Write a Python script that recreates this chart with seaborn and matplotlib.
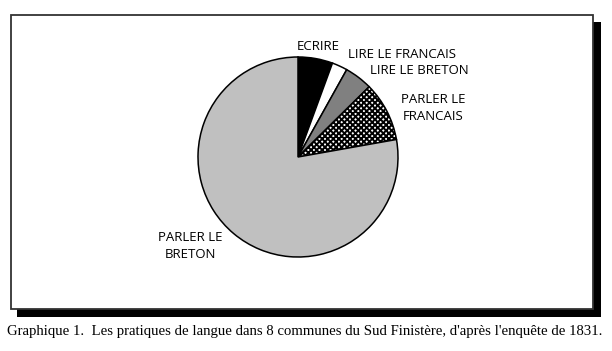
"""
Pie chart: language practices in 8 communes of Sud Finistère (1831 survey).
"""

import matplotlib.pyplot as plt
import seaborn as sns
from matplotlib.patches import Rectangle

# ==========================================
# DATA (shares, in %)
# ==========================================
categories = ["ECRIRE", "LIRE LE FRANCAIS", "LIRE LE BRETON",
              "PARLER LE\nFRANCAIS", "PARLER LE\nBRETON"]
shares = [5.6, 2.5, 4.5, 9.6, 77.8]

# ==========================================
# STYLE
# ==========================================
sns.set_theme(style="white")
plt.rcParams["font.family"] = ["Open Sans", "DejaVu Sans"]
plt.rcParams["hatch.linewidth"] = 1.4

face_colors = ["#000000", "#ffffff", "#808080", "#ffffff", "#c0c0c0"]
hatches = [None, None, None, "xxxxxx", None]

# label anchors in pie data units (radius = 1)
label_pos = [(0.20, 1.10, "center"), (0.50, 1.02, "left"), (0.72, 0.87, "left"),
             (1.35, 0.49, "center"), (-1.08, -0.89, "center")]

W, H = 612, 351
fig = plt.figure(figsize=(W / 100, H / 100), dpi=100)

# frame with drop shadow (pixel coords converted to figure fraction)
def px_rect(x0, y0, x1, y1, **kw):
    return Rectangle((x0 / W, 1 - y1 / H), (x1 - x0) / W, (y1 - y0) / H,
                     transform=fig.transFigure, **kw)

fig.patches.append(px_rect(17, 22, 601, 317, facecolor="black", edgecolor="none", zorder=0))
fig.patches.append(px_rect(11, 15, 593, 309, facecolor="white", edgecolor="#333333",
                           linewidth=1.3, zorder=1))

# pie axes: centre (298,157) px, radius 100 px
cx, cy, r = 298, 157, 100
ax = fig.add_axes([(cx - r) / W, 1 - (cy + r) / H, 2 * r / W, 2 * r / H])
ax.set_zorder(2)
ax.patch.set_alpha(0)

wedges, _ = ax.pie(shares, colors=face_colors, startangle=90, counterclock=False,
                   radius=1, wedgeprops=dict(edgecolor="black", linewidth=1.1))
for w, h in zip(wedges, hatches):
    if h:
        w.set_hatch(h)
        w.set_edgecolor("black")

for name, (x, y, ha) in zip(categories, label_pos):
    ax.text(x, y, name, ha=ha, va="center", fontsize=9.5, color="black",
            linespacing=1.35, clip_on=False)

ax.set_xlim(-1, 1)
ax.set_ylim(-1, 1)
ax.set_aspect("equal")
ax.axis("off")

fig.text(7 / W, 1 - 331 / H,
         "Graphique 1.  Les pratiques de langue dans 8 communes du Sud Finistère, "
         "d'après l'enquête de 1831.",
         ha="left", va="center", fontsize=10.6, family="Liberation Serif", color="black")

fig.savefig("out.png", dpi=100)
plt.close(fig)
